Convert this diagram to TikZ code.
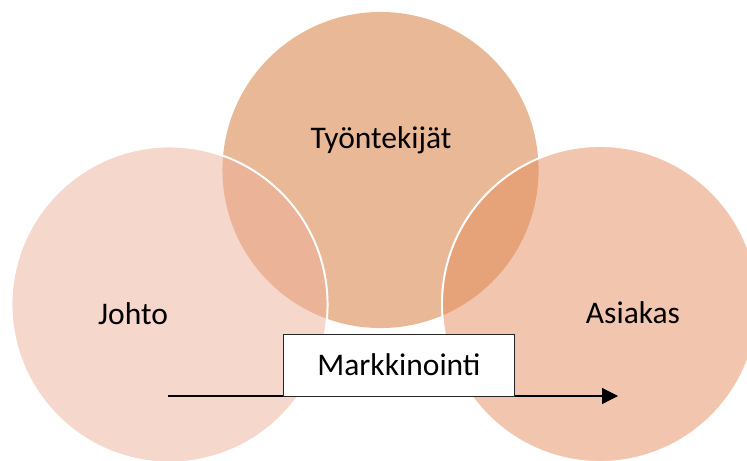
\documentclass[tikz,border=0pt]{standalone}
\usepackage{fontspec}
\setmainfont{Carlito}
\usepackage{xcolor}
\usepackage{tikz}
\usetikzlibrary{arrows.meta}

\definecolor{johtocol}{RGB}{237,175,153}
\definecolor{tyocol}{RGB}{233,184,150}
\definecolor{asiakcol}{RGB}{229,141,93}

\begin{document}
\begin{tikzpicture}[
    x=0.025cm, y=-0.025cm,
    ring/.style={circle, minimum size=7.9cm, inner sep=0pt, outer sep=0pt},
    side/.style={ring, draw=white, line width=1.4pt, fill opacity=0.5},
    lbl/.style={anchor=base, font=\fontsize{22.4}{27}\selectfont},
    box/.style={rectangle, draw=black!85, line width=0.7pt, fill=white, minimum width=5.75cm, minimum height=1.55cm, font=\fontsize{22.4}{27}\selectfont},
    arrow/.style={-{Triangle[length=0.4cm, width=0.4cm]}, line width=0.9pt}
]
    \clip (0,0) rectangle (747,460);
    \useasboundingbox (0,0) rectangle (747,460);

    % Circles
    \node[ring, fill=tyocol] (tyo) at (380.5,170) {};
    \node[side, fill=johtocol] (johto) at (169.5,304.5) {};
    \node[side, fill=asiakcol] (asiakas) at (600,304) {};

    % Labels
    \node[lbl] (tyotxt) at (381,148) {Työntekijät};
    \node[lbl] (johtotxt) at (133,324) {Johto};
    \node[lbl] (asiakastxt) at (633,323) {Asiakas};

    % Arrow
    \coordinate (from) at (168,396);
    \coordinate (to) at (618,396);
    \draw[arrow] (from) -- (to);
    \node[box] (markk) at (399,365) {Markkinointi};
\end{tikzpicture}
\end{document}
